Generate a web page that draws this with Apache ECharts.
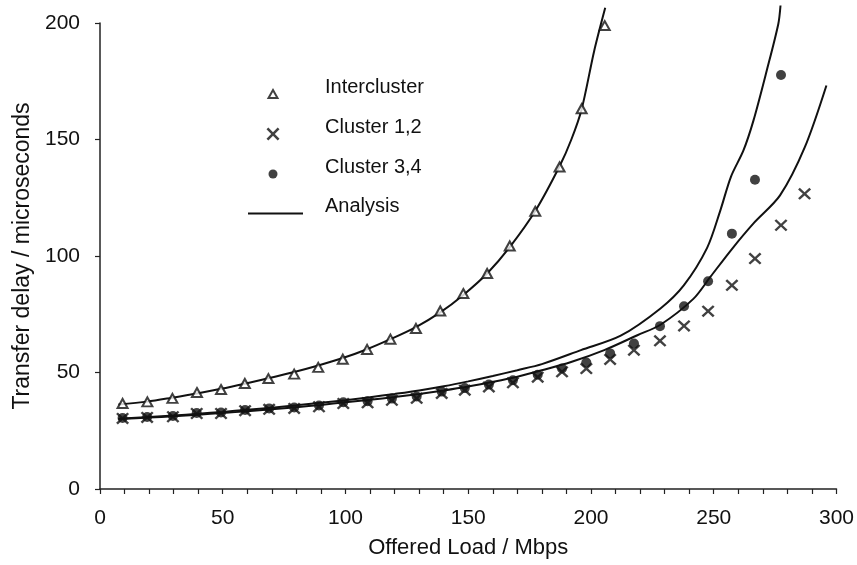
<!DOCTYPE html>
<html><head><meta charset="utf-8">
<script src="https://cdn.jsdelivr.net/npm/echarts/dist/echarts.min.js"></script>
<style>html,body{margin:0;padding:0;background:#fff}#c{width:857px;height:565px}</style>
</head><body><div id="c"></div><script>
// ---- data ----
const interLoad  = [9.2,19.3,29.5,39.5,49.3,59.0,68.6,79.1,88.9,98.9,108.8,118.3,128.7,138.6,148.0,157.7,166.9,177.3,187.2,196.2,205.6];
const interDelay = [36.7,37.4,38.9,41.4,42.7,45.3,47.4,49.3,52.2,55.7,59.9,64.3,68.9,76.4,83.9,92.5,104.3,119.2,138.2,163.2,198.9];

const c12Load  = [9.2,19.2,29.7,39.4,49.3,59.1,68.9,79.1,89.2,99.1,109.0,118.9,129.0,139.2,148.6,158.4,168.2,178.3,188.2,198.1,207.8,217.5,228.1,237.9,247.7,257.4,266.8,277.4,287.0];
const c12Delay = [30.3,30.7,31.0,32.4,32.4,33.6,34.2,34.6,35.3,36.7,37.0,38.1,38.9,41.0,42.4,43.8,45.6,48.0,50.3,51.7,55.6,59.6,63.6,70.0,76.3,87.4,98.9,113.2,126.7];

const c34Load  = [9.2,19.2,29.7,39.4,49.3,59.1,68.9,79.1,89.2,99.1,109.0,118.9,129.0,139.2,148.6,158.4,168.2,178.3,188.2,198.1,207.8,217.5,228.1,237.9,247.7,257.4,266.8,277.4];
const c34Delay = [30.5,30.9,31.3,32.6,32.8,33.9,34.6,35.0,35.8,37.2,37.7,38.8,39.7,41.8,43.3,44.8,46.7,49.0,51.7,54.3,58.2,62.4,69.9,78.4,89.2,109.6,132.7,177.7];

const anaInterLoad  = [7.5,19.3,29.5,39.5,49.3,59,68.6,79.1,88.9,98.9,108.8,118.3,128.7,138.6,148,157.7,166.9,177.3,187.2,192,196.2,201.3,205.8];
const anaInterDelay = [36.3,37.5,39.2,41.0,43.0,45.2,47.5,50.2,53.0,56.2,60.0,64.3,69.5,75.8,83.3,92.5,103.8,119.3,138.5,150,163,188,206.5];

const anaC12Load  = [7.5,20,30,40,50,60,70,80,90,100,110,120,130,140,150,160,170,178.4,191.9,205.4,218.9,228.3,241.8,248.6,257.4,266.2,277,287.1,295.9];
const anaC12Delay = [30.0,30.7,31.2,31.9,32.6,33.4,34.2,35.1,36.1,37.2,38.3,39.5,40.8,42.3,44.0,46.0,48.2,50.5,54.5,59.6,66.0,70.5,81.7,91.0,103.0,114.0,126.0,146.7,173.2];

const anaC34Load  = [7.5,20,30,40,50,60,70,80,90,100,110,120,130,140,150,160,170,180,195.9,212.1,228.3,237.8,247.3,252.7,257,262.1,266.2,271.6,276.3,277.2];
const anaC34Delay = [30.2,30.9,31.5,32.3,33.1,34.0,34.9,35.9,37.0,38.1,39.4,40.8,42.3,44.1,46.2,48.5,51.0,53.6,59.6,65.8,77.5,87.4,103.5,119.6,134,145.3,158.2,179.6,199.6,207.5];

const xTicks = {min:0, max:300, step:50};
const yTicks = {min:0, max:200, step:50};

// ---- build ----
const zip = (a,b) => a.map((v,i)=>[v,b[i]]);
const FONT = '"Liberation Sans", Arial, sans-serif';
const crossPath = 'path://M0,1.6L1.6,0L6,4.4L10.4,0L12,1.6L7.6,6L12,10.4L10.4,12L6,7.6L1.6,12L0,10.4L4.4,6Z';
// legend icons: 72x28 boxes (invisible corner points keep the box), symbol placed below the text centre
const BOX = 'M0,0M72,28';
const legTri   = 'path://' + BOX + 'M20.5,25L25,17L29.5,25Z';
const legCross = 'path://' + BOX + 'M18.5,15.8L20.3,14L25,18.7L29.7,14L31.5,15.8L26.8,20.5L31.5,25.2L29.7,27L25,22.3L20.3,27L18.5,25.2L23.2,20.5Z';
const legDot   = 'path://' + BOX + 'M20.5,21a4.5,4.5 0 1,0 9,0a4.5,4.5 0 1,0 -9,0Z';
const legLine  = 'path://' + BOX + 'M0,20L55,20L55,22L0,22Z';
const lineStyle = {color:'#111', width:2};

const chart = echarts.init(document.getElementById('c'), null, {renderer:'canvas'});
chart.setOption({
  animation:false,
  backgroundColor:'#fff',
  grid:{left:100, right:17, top:23, bottom:76, containLabel:false},
  xAxis:{type:'value', min:xTicks.min, max:xTicks.max, interval:xTicks.step,
    name:'Offered Load / Mbps', nameLocation:'middle', nameGap:48,
    nameTextStyle:{fontFamily:FONT, fontSize:22, color:'#111'},
    axisLine:{lineStyle:{color:'#222', width:1.5}},
    axisTick:{show:true, length:5, lineStyle:{color:'#222', width:1.2}},
    minorTick:{show:true, splitNumber:5, length:5, lineStyle:{color:'#222', width:1.2}},
    axisLabel:{fontFamily:FONT, fontSize:21, color:'#111', margin:19},
    splitLine:{show:false}},
  yAxis:{type:'value', min:yTicks.min, max:yTicks.max, interval:yTicks.step,
    name:'Transfer delay / microseconds', nameLocation:'middle', nameGap:65,
    nameTextStyle:{fontFamily:FONT, fontSize:23, color:'#111'},
    axisLine:{show:true, lineStyle:{color:'#222', width:1.5}},
    axisTick:{show:true, length:5, lineStyle:{color:'#222', width:1.2}},
    axisLabel:{fontFamily:FONT, fontSize:21, color:'#111', margin:20},
    splitLine:{show:false}},
  legend:{orient:'vertical', left:242, top:67, itemWidth:72, itemHeight:28, itemGap:11.5,
    selectedMode:false, symbolKeepAspect:true,
    textStyle:{fontFamily:FONT, fontSize:20, color:'#111'},
    data:[
      {name:'Intercluster', icon:legTri},
      {name:'Cluster 1,2', icon:legCross},
      {name:'Cluster 3,4', icon:legDot},
      {name:'Analysis', icon:legLine}
    ]},
  series:[
    {name:'Analysis', type:'line', data:zip(anaInterLoad, anaInterDelay), showSymbol:false, symbol:'none', smooth:0.3, clip:false, lineStyle, itemStyle:{color:'#111'}, z:1},
    {name:'Analysis', type:'line', data:zip(anaC12Load, anaC12Delay), showSymbol:false, symbol:'none', smooth:0.3, clip:false, lineStyle, itemStyle:{color:'#111'}, z:1},
    {name:'Analysis', type:'line', data:zip(anaC34Load, anaC34Delay), showSymbol:false, symbol:'none', smooth:0.3, clip:false, lineStyle, itemStyle:{color:'#111'}, z:1},
    {name:'Cluster 3,4', type:'scatter', data:zip(c34Load, c34Delay), symbol:'circle', symbolSize:10, itemStyle:{color:'#111'}, z:3},
    {name:'Cluster 1,2', type:'scatter', data:zip(c12Load, c12Delay), symbol:crossPath, symbolSize:[13,12], itemStyle:{color:'#111'}, z:4},
    {name:'Intercluster', type:'scatter', data:zip(interLoad, interDelay), symbol:'triangle', symbolSize:[10,9], itemStyle:{color:'#fff', borderColor:'#111', borderWidth:2}, z:5}
  ]
});
</script></body></html>
